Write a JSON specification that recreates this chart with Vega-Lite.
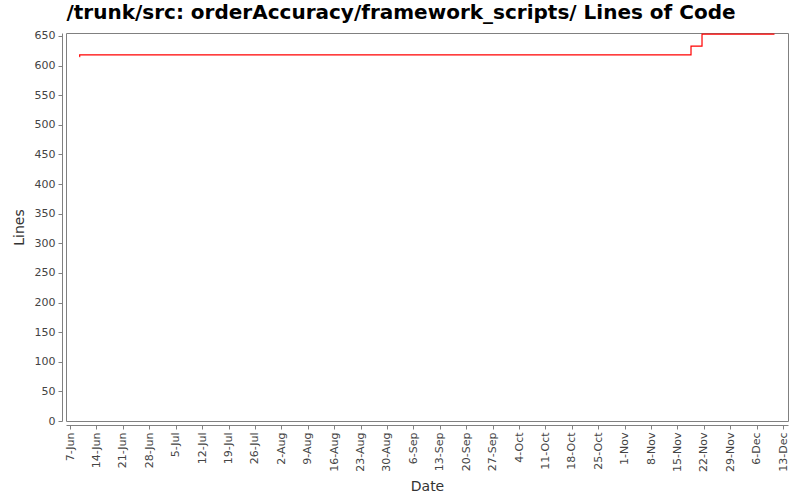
{
  "$schema": "https://vega.github.io/schema/vega-lite/v6.json",
  "autosize": "none",
  "width": 722,
  "height": 388,
  "padding": {"left": 66, "top": 33, "right": 12, "bottom": 79},
  "background": "white",
  "title": {
    "text": "/trunk/src: orderAccuracy/framework_scripts/ Lines of Code",
    "font": "DejaVu Sans",
    "fontSize": 20,
    "fontWeight": "bold",
    "color": "black",
    "anchor": "middle",
    "dx": -26,
    "offset": 7
  },
  "config": {
    "view": {"stroke": "#808080", "strokeWidth": 1},
    "axis": {
      "labelFont": "DejaVu Sans",
      "labelFontSize": 11,
      "labelColor": "#444444",
      "titleFont": "DejaVu Sans",
      "titleFontSize": 14,
      "titleFontWeight": "normal",
      "titleColor": "#333333",
      "domainColor": "#808080",
      "tickColor": "#808080",
      "tickSize": 4,
      "offset": 4,
      "grid": false
    }
  },
  "data": {
    "values": [
      {"date": "2009-06-09T12:00:00", "lines": 615},
      {"date": "2009-06-09T13:00:00", "lines": 618},
      {"date": "2009-11-18T14:00:00", "lines": 633},
      {"date": "2009-11-21T12:00:00", "lines": 653},
      {"date": "2009-12-10T17:00:00", "lines": 653}
    ]
  },
  "mark": {"type": "line", "interpolate": "step-after", "color": "#ff0000", "strokeWidth": 1.2},
  "encoding": {
    "x": {
      "field": "date",
      "type": "temporal",
      "title": "Date",
      "scale": {
        "domain": [
          {"year": 2009, "month": "Jun", "date": 5, "hours": 22},
          {"year": 2009, "month": "Dec", "date": 14, "hours": 7}
        ],
        "nice": false
      },
      "axis": {
        "format": "%-d-%b",
        "tickCount": {"interval": "week", "step": 1},
        "labelAngle": 270,
        "labelAlign": "right",
        "labelBaseline": "middle",
        "labelPadding": 3,
        "titlePadding": 8
      }
    },
    "y": {
      "field": "lines",
      "type": "quantitative",
      "title": "Lines",
      "scale": {"domain": [0, 655], "nice": false},
      "axis": {
        "values": [0, 50, 100, 150, 200, 250, 300, 350, 400, 450, 500, 550, 600, 650],
        "labelPadding": 3,
        "titlePadding": 8
      }
    }
  }
}
